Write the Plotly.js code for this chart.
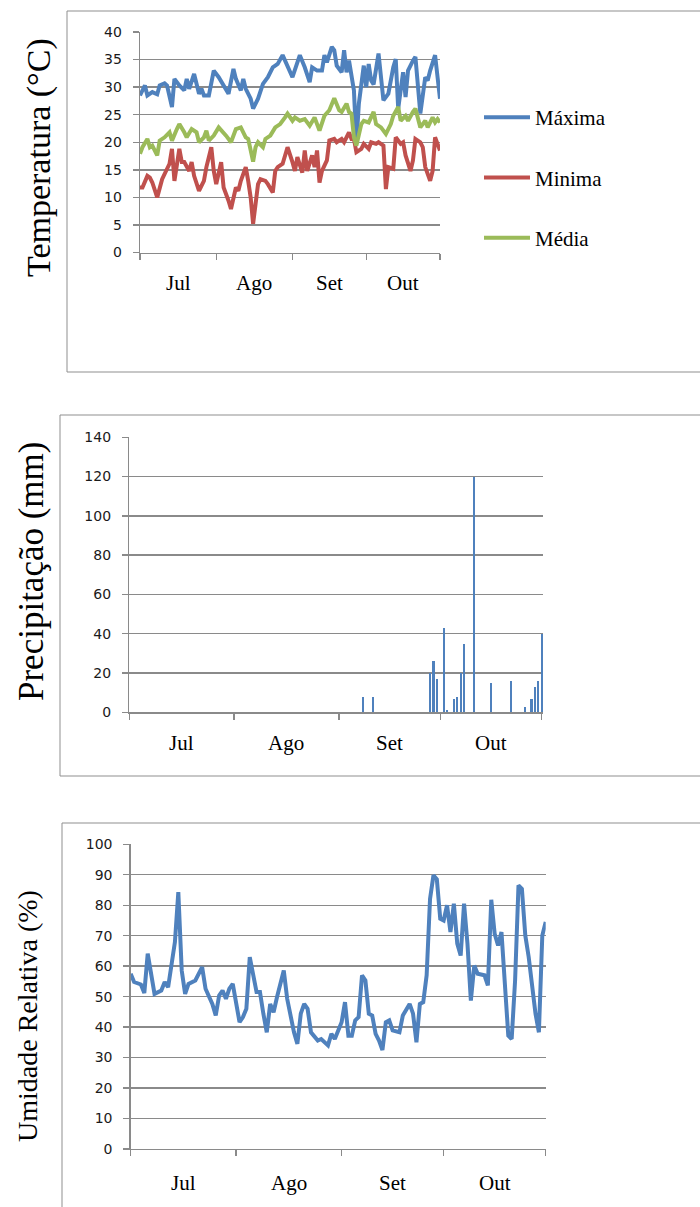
<!DOCTYPE html>
<html>
<head>
<meta charset="utf-8">
<script src="https://cdn.plot.ly/plotly-3.0.1.min.js"></script>
<style>
  html, body { margin: 0; padding: 0; background: #ffffff; }
  #chart { width: 700px; height: 1207px; }
</style>
</head>
<body>
<div id="chart"></div>
<script>
// ---- Data (day index: 0 = 1 Jul) ----
const monthStarts = [0, 31, 62, 92, 122];
const monthNames = ['Jul', 'Ago', 'Set', 'Out'];

const maxDays = [0,2,3,5,7,8,10,11,13,14,16,18,19,20,22,24,25,26,28,30,32,34,36,38,39,41,42,43,45,46,48,50,52,54,56,58,60,62,65,67,69,70,72,74,75,76,78,79,80,82,83,84,85,86,87,88,89,91,92,93,94,95,97,99,101,103,104,105,107,108,109,111,112,114,116,117,118,120,121,122];
const maxVals = [28.5,30.3,28.5,29.1,28.7,30.3,30.7,30.3,26.4,31.5,30.3,29.4,31.5,29.7,32.4,28.8,29.7,28.5,28.5,33.0,31.8,30.3,28.8,33.3,31.5,29.4,31.5,29.7,27.9,26.1,27.9,30.6,31.8,33.6,34.2,35.8,33.6,31.8,35.8,33.6,30.9,33.6,33.0,33.0,35.8,34.5,37.3,36.7,33.9,32.7,36.7,32.7,34.8,31.5,29.4,19.7,27.0,33.9,30.0,34.2,31.2,30.5,36.1,27.6,28.8,33.6,35.1,26.1,32.7,28.2,33.0,34.8,35.5,25.2,31.8,31.2,33.0,35.8,31.8,27.9];

const minDays = [0,1,3,4,5,7,9,10,12,13,14,16,17,18,20,21,22,24,26,27,29,30,31,33,34,36,37,39,40,41,43,44,45,46,48,49,51,52,54,55,56,58,59,60,62,63,64,66,67,68,70,71,72,73,74,76,77,79,80,82,83,85,86,87,88,90,91,93,94,96,97,99,100,101,103,104,106,107,108,110,111,112,114,115,116,118,119,120,121,122];
const minVals = [11.8,11.8,13.9,13.6,12.7,10.0,13.3,14.2,16.1,18.8,13.0,18.8,16.4,16.4,14.8,16.4,13.9,11.2,13.0,15.5,19.1,14.8,12.4,16.4,11.8,9.4,7.9,11.8,11.2,13.0,15.5,13.0,10.0,5.2,12.4,13.3,13.0,12.4,10.9,14.8,15.5,16.1,17.6,19.1,16.4,14.8,17.3,14.5,18.5,14.8,17.6,15.5,18.5,12.7,14.8,16.7,20.3,20.6,20.0,20.6,20.0,21.8,20.6,20.6,18.2,18.8,19.7,18.8,20.0,19.7,20.0,19.4,11.5,15.5,15.2,20.9,19.7,20.0,17.6,14.8,16.7,20.6,20.0,19.1,15.5,13.0,14.8,20.9,19.7,18.5];

const medDays = [0,1,3,4,5,7,8,10,12,13,15,16,18,19,21,23,24,26,27,28,30,32,35,37,39,41,43,44,46,47,48,50,51,53,55,57,59,60,62,63,65,67,69,71,73,75,77,79,81,82,84,85,86,87,88,90,91,93,95,96,98,100,102,103,105,106,108,109,111,112,114,116,117,119,120,121,122];
const medVals = [17.9,19.1,20.6,19.1,19.4,17.6,20.3,20.9,21.8,20.3,22.4,23.3,21.8,20.9,22.4,21.8,20.0,20.9,22.1,20.3,21.2,22.7,21.2,20.0,22.4,22.7,20.9,20.6,16.5,19.1,20.0,19.1,20.6,21.2,22.7,23.3,24.5,25.2,23.9,24.5,23.9,24.2,23.0,24.5,22.1,24.8,25.8,28.0,25.8,25.5,27.0,25.5,25.2,20.9,19.4,23.3,23.9,23.6,25.5,23.3,22.7,21.5,23.3,24.8,26.4,23.9,24.8,23.9,25.5,26.1,22.7,23.9,22.7,24.5,23.6,24.2,23.6];

const precDays = [69,72,89,90,91,93,94,96,97,98,99,102,107,113,117,119,120,121,122];
const precVals = [8,8,20,26,17,43,1,7,8,20,35,120,15,16,2.5,7,13,16,40];

const urDays = [0,1,3,4,5,6,7,9,10,11,12,13,14,15,16,17,19,20,21,22,24,25,26,27,28,29,30,32,33,34,35,37,38,39,40,41,42,43,45,46,48,49,50,51,52,53,55,56,58,59,60,62,63,64,65,66,67,68,69,70,71,72,73,74,75,76,77,79,80,82,83,84,85,86,87,88,89,90,91,92,93,94,95,96,97,98,99,100,101,102,104,105,106,107,108,109,110,111,112,113,114,115,116,117,119,120,121,122];
const urVals = [57.5,54.8,54.0,51.2,64.1,58.0,50.9,52.0,54.8,53.1,59.7,67.9,84.3,58.6,50.9,54.2,55.3,57.5,59.7,52.6,47.6,43.8,50.4,52.0,49.3,52.6,54.2,41.6,43.3,46.0,63.0,51.5,51.5,44.4,38.3,47.6,44.9,49.8,58.6,49.3,38.3,34.5,44.4,47.6,46.0,38.3,35.6,36.1,34.0,37.8,36.1,41.6,48.2,37.2,37.2,42.2,43.3,57.0,55.3,44.4,43.8,37.8,35.6,32.5,41.6,42.2,38.9,38.3,43.8,47.6,44.4,35.0,47.6,48.2,57.0,82.1,89.8,88.5,75.6,75.0,80.0,71.2,80.5,67.4,63.5,80.5,67.4,48.7,60.2,57.5,57.0,53.7,81.8,70.6,66.8,71.2,52.0,37.2,36.1,55.3,86.5,85.4,70.1,63.0,44.4,38.3,70.1,74.5];

// ---- Styles ----
const GRID = '#8a8a8a';
const AXIS = '#8a8a8a';
const BLUE = '#4F81BD', RED = '#C0504D', GREEN = '#9BBB59';
const SERIF = 'Liberation Serif';
const SANS = 'DejaVu Sans';
const W = 700, H = 1207;
const px = v => v / W;
const py = v => 1 - v / H;

const mids = monthNames.map((_, i) => (monthStarts[i] + monthStarts[i + 1]) / 2);

function xAx(d0, d1, yName, rmax) {
  return {
    domain: [px(d0), px(d1)], range: [0, rmax], anchor: yName,
    tickvals: monthStarts, ticktext: monthStarts.map(() => ''),
    ticks: 'outside', ticklen: 6, tickwidth: 1.4, tickcolor: AXIS,
    showgrid: false, zeroline: false, showline: true, linecolor: AXIS, linewidth: 1.4,
    fixedrange: true
  };
}
function yAx(top, bot, xName, rmax, dt) {
  return {
    domain: [py(bot), py(top)], range: [0, rmax], dtick: dt, tick0: 0, anchor: xName,
    ticks: 'outside', ticklen: 6, tickwidth: 1.4, tickcolor: AXIS,
    showgrid: true, gridcolor: GRID, gridwidth: 1.4,
    zeroline: false, showline: true, linecolor: AXIS, linewidth: 1.4,
    tickfont: { family: SANS, size: 14, color: '#1a1a1a' },
    ticklabelstandoff: 8, fixedrange: true
  };
}

const traces = [
  { x: maxDays, y: maxVals, type: 'scatter', mode: 'lines', name: 'Máxima', legendgroup: 'a',
    line: { color: BLUE, width: 4 }, xaxis: 'x', yaxis: 'y', hoverinfo: 'skip' },
  { x: minDays, y: minVals, type: 'scatter', mode: 'lines', name: 'Minima', legendgroup: 'b',
    line: { color: RED, width: 4 }, xaxis: 'x', yaxis: 'y', hoverinfo: 'skip' },
  { x: medDays, y: medVals, type: 'scatter', mode: 'lines', name: 'Média', legendgroup: 'c',
    line: { color: GREEN, width: 4 }, xaxis: 'x', yaxis: 'y', hoverinfo: 'skip' },
  { x: precDays, y: precVals, type: 'bar', width: 0.6, marker: { color: BLUE },
    xaxis: 'x2', yaxis: 'y2', showlegend: false, hoverinfo: 'skip' },
  { x: urDays, y: urVals, type: 'scatter', mode: 'lines', line: { color: BLUE, width: 4 },
    xaxis: 'x3', yaxis: 'y3', showlegend: false, hoverinfo: 'skip' }
];

const annotations = [];
const labelY = [283, 743, 1183];
const axNames = ['x', 'x2', 'x3'];
axNames.forEach((ax, k) => {
  monthNames.forEach((m, i) => {
    annotations.push({ text: m, x: mids[i], xref: ax, y: py(labelY[k]), yref: 'paper',
      xanchor: 'center', yanchor: 'middle', showarrow: false,
      font: { family: SERIF, size: 21, color: '#000' } });
  });
});
const titles = [
  { text: 'Temperatura (°C)', x: 39, y: 158, s: 34 },
  { text: 'Precipitação (mm)', x: 31, y: 572, s: 35 },
  { text: 'Umidade Relativa (%)', x: 27, y: 1016, s: 28 }
];
titles.forEach(t => annotations.push({ text: t.text, x: px(t.x), y: py(t.y), xref: 'paper', yref: 'paper',
  xanchor: 'center', yanchor: 'middle', textangle: -90, showarrow: false,
  font: { family: SERIF, size: t.s, color: '#000' } }));

const boxes = [[67, 11, 372], [60, 415, 776], [62, 823, 1215]];
const shapes = boxes.map(b => ({ type: 'rect', xref: 'paper', yref: 'paper',
  x0: px(b[0]), x1: px(710), y0: py(b[2]), y1: py(b[1]),
  line: { color: '#8f8f8f', width: 1 }, fillcolor: 'rgba(0,0,0,0)' }));

const layout = {
  width: W, height: H, margin: { l: 0, r: 0, t: 0, b: 0 },
  paper_bgcolor: '#fff', plot_bgcolor: '#fff',
  font: { family: SERIF, size: 21, color: '#000' },
  showlegend: true,
  legend: { x: px(479), xanchor: 'left', y: py(97), yanchor: 'top',
    traceorder: 'grouped', tracegroupgap: 30, itemwidth: 46,
    font: { family: SERIF, size: 21, color: '#000' }, bgcolor: 'rgba(0,0,0,0)' },
  xaxis: xAx(140, 440, 'y', 122),
  yaxis: yAx(32, 252.5, 'x', 40, 5),
  xaxis2: xAx(129.3, 543, 'y2', 122.4),
  yaxis2: yAx(437.3, 712.3, 'x2', 140, 20),
  xaxis3: xAx(130.7, 545.7, 'y3', 122),
  yaxis3: yAx(844.3, 1149, 'x3', 100, 10),
  annotations: annotations,
  shapes: shapes,
  bargap: 0
};

Plotly.newPlot('chart', traces, layout, { staticPlot: true, displayModeBar: false });
</script>
</body>
</html>
